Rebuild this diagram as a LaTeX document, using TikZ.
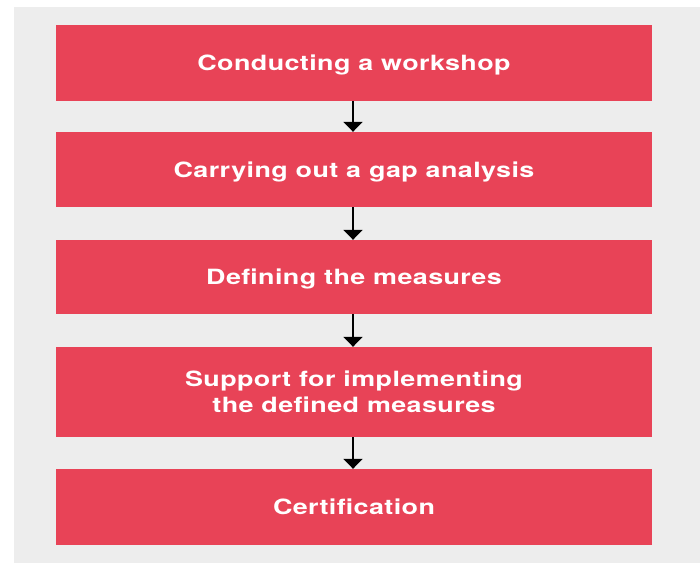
\documentclass[tikz,border=0pt]{standalone}
\usepackage{fontspec}
\setmainfont{TeX Gyre Heros}[FakeStretch=1.28, LetterSpace=2]
\usetikzlibrary{arrows.meta}
\definecolor{boxred}{HTML}{E84357}
\definecolor{bggray}{HTML}{EDEDED}
\tikzset{
  stepbox/.style={fill=boxred, text=white, minimum width=596pt, align=center,
    font=\fontsize{21}{26}\selectfont\bfseries, inner sep=0pt, text depth=0pt},
  flowarrow/.style={line width=1.8pt, -{Triangle[width=19pt,length=10pt]}}
}
\begin{document}
\begin{tikzpicture}[x=1pt,y=-1pt]
\useasboundingbox (0,0) rectangle (700,563);
\fill[bggray] (14,7) rectangle (700,563);
\foreach \n/\y/\h/\t in {1/63/76/{Conducting a workshop},
    2/169.5/75/{Carrying out a gap analysis},
    3/277/74/{Defining the measures},
    4/392/90/{Support for implementing\\the defined measures},
    5/507/76/{Certification}}{
  \node [stepbox, minimum height=\h pt] (s\n) at (354,\y) {\t};
}
\foreach \a/\b in {1/2,2/3,3/4,4/5}{
  \draw [flowarrow] (s\a.south -| 353,0) -- (s\b.north -| 353,0);
}
\end{tikzpicture}
\end{document}
